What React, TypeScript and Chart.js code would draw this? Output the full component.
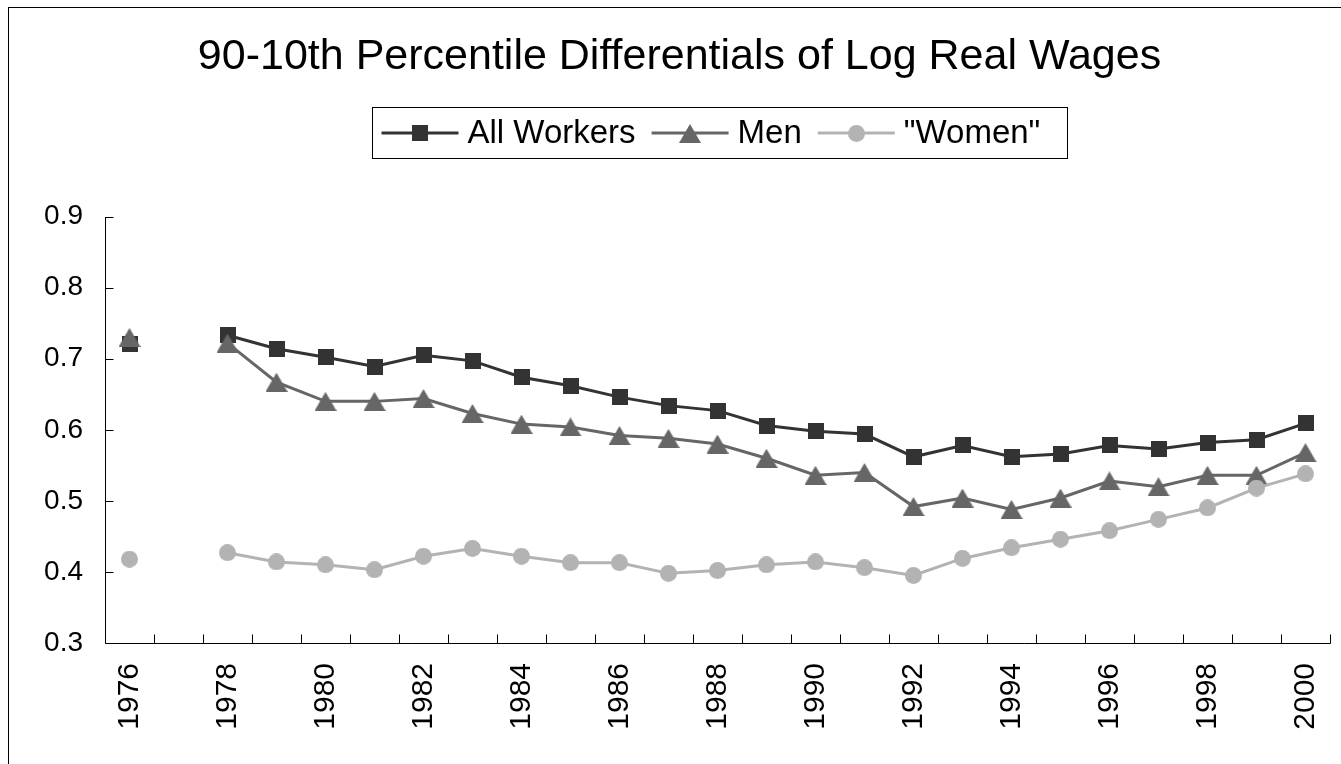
import React, { useEffect, useRef } from 'react';
import { Chart, registerables } from 'chart.js';

Chart.register(...registerables);

const FONT = '"Liberation Sans", Arial, sans-serif';

const years = ['1976', '1977', '1978', '1979', '1980', '1981', '1982', '1983', '1984', '1985', '1986', '1987', '1988', '1989', '1990', '1991', '1992', '1993', '1994', '1995', '1996', '1997', '1998', '1999', '2000'];
const shownYearLabels = ['1976', '1978', '1980', '1982', '1984', '1986', '1988', '1990', '1992', '1994', '1996', '1998', '2000'];

const allWorkers = [0.721, null, 0.733, 0.714, 0.702, 0.689, 0.705, 0.697, 0.674, 0.662, 0.646, 0.634, 0.627, 0.606, 0.598, 0.594, 0.562, 0.578, 0.562, 0.566, 0.578, 0.573, 0.582, 0.586, 0.609];
const men = [0.730, null, 0.722, 0.667, 0.640, 0.640, 0.644, 0.623, 0.608, 0.604, 0.592, 0.588, 0.580, 0.560, 0.536, 0.540, 0.492, 0.504, 0.488, 0.504, 0.528, 0.520, 0.536, 0.536, 0.568];
const women = [0.418, null, 0.427, 0.414, 0.410, 0.403, 0.422, 0.433, 0.422, 0.413, 0.413, 0.398, 0.402, 0.410, 0.414, 0.406, 0.395, 0.419, 0.434, 0.446, 0.458, 0.474, 0.490, 0.518, 0.538];

const seriesNames = ['All Workers', 'Men', '"Women"'];
const titleText = '90-10th Percentile Differentials of Log Real Wages';
const yMin = 0.3;
const yMax = 0.9;
const yStep = 0.1;

function makeMarker(kind: string, color: string): HTMLCanvasElement {
  const c = document.createElement('canvas');
  if (kind === 'square') {
    c.width = 16; c.height = 16;
    const g = c.getContext('2d')!;
    g.fillStyle = color;
    g.fillRect(0, 0, 16, 16);
  } else if (kind === 'triangle') {
    c.width = 22; c.height = 19;
    const g = c.getContext('2d')!;
    g.fillStyle = color;
    g.beginPath();
    g.moveTo(11, 0);
    g.lineTo(22, 19);
    g.lineTo(0, 19);
    g.closePath();
    g.fill();
  } else {
    c.width = 17; c.height = 17;
    const g = c.getContext('2d')!;
    g.fillStyle = color;
    g.beginPath();
    g.arc(8.5, 8.5, 8.5, 0, Math.PI * 2);
    g.fill();
  }
  return c;
}

const axesPlugin = {
  id: 'inwardAxes',
  beforeDatasetsDraw(chart: any) {
    const { ctx, chartArea: a, scales } = chart;
    const x = scales.x;
    const y = scales.y;
    ctx.save();
    ctx.strokeStyle = '#000';
    ctx.lineWidth = 1;
    ctx.beginPath();
    const L = Math.round(a.left) + 0.5;
    const B = Math.round(a.bottom) + 0.5;
    ctx.moveTo(L, Math.round(a.top));
    ctx.lineTo(L, B);
    ctx.lineTo(Math.round(a.right) + 0.5, B);
    y.ticks.forEach((_t: any, i: number) => {
      const py = Math.round(y.getPixelForTick(i)) + 0.5;
      ctx.moveTo(L, py);
      ctx.lineTo(L + 8, py);
    });
    const n = chart.data.labels.length;
    const step = x.getPixelForValue(1) - x.getPixelForValue(0);
    for (let i = 1; i <= n; i++) {
      const px = Math.round(x.getPixelForValue(0) - step / 2 + i * step) + 0.5;
      ctx.moveTo(px, B);
      ctx.lineTo(px, B - 9);
    }
    ctx.stroke();
    ctx.restore();
  },
};

const boxLegendPlugin = {
  id: 'boxLegend',
  afterDraw(chart: any) {
    const ctx = chart.ctx;
    ctx.save();
    ctx.font = `33px ${FONT}`;
    const dsList = chart.data.datasets;
    const items = dsList.map((ds: any) => ({ ds, w: ctx.measureText(ds.label).width }));
    const lineLen = 77, gapText = 9, gapItem = 16, padL = 9, padR = 27;
    const content = items.reduce((s: number, it: any) => s + lineLen + gapText + it.w, 0) + gapItem * (items.length - 1);
    const boxW = Math.round(padL + content + padR);
    const cx = 710.5;
    const boxL = Math.round(cx - boxW / 2) + 0.5;
    const boxT = 99.5;
    const boxH = 51;
    ctx.strokeStyle = '#000';
    ctx.lineWidth = 1;
    ctx.strokeRect(boxL, boxT, boxW, boxH);
    let xx = boxL + padL;
    const cy = boxT + boxH / 2;
    items.forEach(({ ds, w }: any) => {
      ctx.strokeStyle = ds.borderColor;
      ctx.lineWidth = ds.borderWidth;
      ctx.beginPath();
      ctx.moveTo(xx, cy);
      ctx.lineTo(xx + lineLen, cy);
      ctx.stroke();
      const img = ds.pointStyle as HTMLCanvasElement;
      ctx.drawImage(img, Math.round(xx + lineLen / 2 - img.width / 2), Math.round(cy - img.height / 2));
      ctx.fillStyle = '#000';
      ctx.textBaseline = 'middle';
      ctx.textAlign = 'left';
      ctx.fillText(ds.label, xx + lineLen + gapText, cy + 1);
      xx += lineLen + gapText + w + gapItem;
    });
    ctx.restore();
  },
};

export default function App() {
  const ref = useRef<HTMLCanvasElement | null>(null);

  useEffect(() => {
    if (!ref.current) return;
    const sq = makeMarker('square', '#333333');
    const tri = makeMarker('triangle', '#666666');
    const cir = makeMarker('circle', '#b3b3b3');
    const chart = new Chart(ref.current, {
      type: 'line',
      data: {
        labels: years,
        datasets: [
          { label: seriesNames[0], data: allWorkers, borderColor: '#333333', backgroundColor: '#333333', borderWidth: 3, pointStyle: sq as any, pointRadius: 8, spanGaps: false, order: 2 },
          { label: seriesNames[1], data: men, borderColor: '#666666', backgroundColor: '#666666', borderWidth: 3, pointStyle: tri as any, pointRadius: 8, spanGaps: false, order: 1 },
          { label: seriesNames[2], data: women, borderColor: '#b3b3b3', backgroundColor: '#b3b3b3', borderWidth: 3, pointStyle: cir as any, pointRadius: 8, spanGaps: false, order: 0 },
        ] as any,
      },
      options: {
        animation: false,
        responsive: false,
        maintainAspectRatio: false,
        layout: { padding: { left: 17, right: 8, top: 0, bottom: 0 } },
        plugins: {
          legend: { display: false },
          tooltip: { enabled: false },
          title: {
            display: true,
            text: titleText,
            color: '#000',
            font: { family: FONT, size: 43, weight: 'normal' as any },
            padding: { top: 23, bottom: 134 },
          },
        },
        scales: {
          x: {
            type: 'category',
            offset: true,
            grid: { display: false, drawTicks: false },
            border: { display: false },
            ticks: {
              autoSkip: false,
              maxRotation: 90,
              minRotation: 90,
              padding: 20,
              color: '#000',
              font: { family: FONT, size: 30 },
              callback: function (this: any, value: any) {
                const lab = this.getLabelForValue(value);
                return shownYearLabels.includes(lab) ? lab : '';
              },
            },
            afterFit: (s: any) => { s.height = 121; s.paddingLeft = 0; s.paddingRight = 0; },
          },
          y: {
            min: yMin,
            max: yMax,
            grid: { display: false, drawTicks: false },
            border: { display: false },
            ticks: {
              stepSize: yStep,
              padding: 22,
              color: '#000',
              font: { family: FONT, size: 28 },
              callback: (v: any) => Number(v).toFixed(1),
            },
            afterFit: (s: any) => { s.width = 79; s.paddingTop = 0; s.paddingBottom = 0; },
          },
        },
      },
      plugins: [axesPlugin, boxLegendPlugin],
    });
    return () => chart.destroy();
  }, []);

  return (
    <div
      style={{
        position: 'absolute',
        left: 8,
        top: 7,
        width: 1332,
        height: 756,
        borderLeft: '1px solid #000',
        borderTop: '1px solid #000',
        background: '#fff',
      }}
    >
      <canvas ref={ref} width={1332} height={756} style={{ display: 'block', width: 1332, height: 756 }} />
    </div>
  );
}
